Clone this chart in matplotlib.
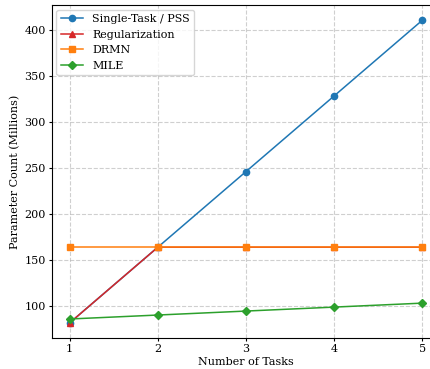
import numpy as np
import matplotlib.pyplot as plt

plt.rcParams['font.family'] = 'DejaVu Serif'
plt.rcParams['font.size'] = 8

# Data
tasks = [1, 2, 3, 4, 5]
single_task = [82, 164, 246, 328, 410]
regularization = [82, 164, 164, 164, 164]
drmn = [164, 164, 164, 164, 164]
mile = [86.2, 90.5, 94.8, 99.1, 103.4]

fig = plt.figure(figsize=(4.3, 3.69), dpi=100)
ax = fig.add_axes([0.121, 0.084, 0.902, 0.902])

ax.plot(tasks, single_task, marker='o', markersize=4.5, linewidth=1.1, label='Single-Task / PSS')
ax.plot(tasks, regularization, marker='^', markersize=4.5, linewidth=1.1, color='tab:red', label='Regularization')
ax.plot(tasks, drmn, marker='s', markersize=4.5, linewidth=1.1, color='tab:orange', label='DRMN')
ax.plot(tasks, mile, marker='D', markersize=4.5, linewidth=1.1, color='tab:green', label='MILE')

ax.set_xlabel('Number of Tasks', labelpad=2)
ax.set_ylabel('Parameter Count (Millions)', labelpad=3)
ax.set_xticks(tasks)
ax.tick_params(length=2.5, pad=2)
ax.grid(True, linestyle='--', alpha=0.6)
ax.legend(loc='upper left', borderaxespad=0.4)

fig.savefig('out.png', dpi=100)
